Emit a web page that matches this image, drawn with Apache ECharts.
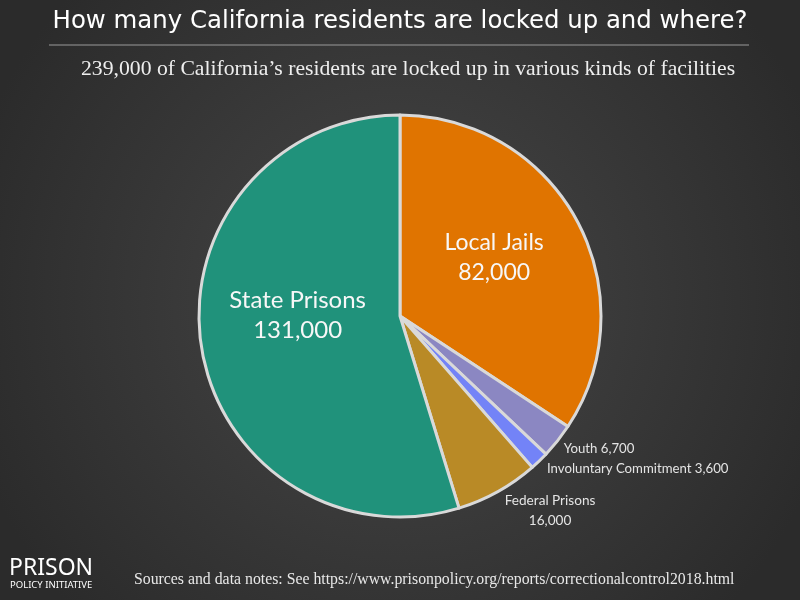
<!DOCTYPE html>
<html>
<head>
<meta charset="utf-8">
<style>
  html, body { margin: 0; padding: 0; background: #333; }
  #chart { width: 800px; height: 600px; }
</style>
<script src="https://cdn.jsdelivr.net/npm/echarts@6/dist/echarts.min.js"></script>
</head>
<body>
<div id="chart"></div>
<script>
// --- data ---
var categories = ['Local Jails', 'Youth', 'Involuntary Commitment', 'Federal Prisons', 'State Prisons'];
var residents = [82000, 6700, 3600, 16000, 131000];

var sliceColors = ['#e07400', '#8b87c2', '#7383f7', '#b98a26', '#20927b'];

(function() {
    var chart = echarts.init(document.getElementById('chart'), null, { renderer: 'canvas' });

    function fmt(v) { return v.toLocaleString('en-US'); }

    // nudges so labels sit where the original puts them
    var nudge = {
        'Local Jails': [3, -9],
        'Youth': [-2, 5],
        'Involuntary Commitment': [0, 5],
        'Federal Prisons': [0, 16],
        'State Prisons': [0, -16]
    };

    var bigFont = { 'Local Jails': 23, 'State Prisons': 24 };
    var pieData = categories.map(function(name, i) {
        var item = { name: name, value: residents[i], itemStyle: { color: sliceColors[i] } };
        if (bigFont[name]) {
            item.label = {
                position: 'inner',
                fontSize: bigFont[name],
                lineHeight: 30,
                color: '#f7f7f7',
                formatter: function(p) { return p.name + '\n' + fmt(p.value); }
            };
        } else {
            item.label = {
                position: 'outside',
                fontSize: 13.2,
                lineHeight: 20,
                color: '#e4e4e4',
                formatter: name === 'Federal Prisons'
                    ? function(p) { return '{a|' + p.name + '}\n{a|' + fmt(p.value) + '}'; }
                    : function(p) { return p.name + ' ' + fmt(p.value); },
                rich: {
                    a: { fontSize: 13.6, lineHeight: 20, color: '#e4e4e4', fontFamily: 'Lato', align: 'center' }
                }
            };
            item.labelLine = { show: false };
        }
        return item;
    });

    var option = {
        animation: false,
        backgroundColor: {
            type: 'radial', x: 0.5, y: 0.5, r: 0.75,
            colorStops: [
                { offset: 0, color: '#474747' },
                { offset: 1, color: '#2b2b2b' }
            ]
        },
        title: [
            {
                text: 'How many California residents are locked up and where?',
                left: 'center', top: 5,
                textStyle: { color: '#ffffff', fontFamily: 'DejaVu Sans', fontWeight: 'normal', fontSize: 24.4 }
            },
            {
                text: '239,000 of California\u2019s residents are locked up in various kinds of facilities',
                left: 76, top: 53,
                textStyle: { color: '#eeeeee', fontFamily: 'Liberation Serif', fontWeight: 'normal', fontSize: 21.7 }
            },
            {
                text: 'Sources and data notes: See https://www.prisonpolicy.org/reports/correctionalcontrol2018.html',
                left: 129, top: 567,
                textStyle: { color: '#e8e8e8', fontFamily: 'Liberation Serif', fontWeight: 'normal', fontSize: 15.8 }
            }
        ],
        graphic: [
            { type: 'line', shape: { x1: 49, y1: 45, x2: 749, y2: 45 }, style: { stroke: '#9a9a9a', lineWidth: 1 } },
            { type: 'text', left: 9, top: 557, style: { text: 'PRISON', fill: '#ffffff', font: '23px "Noto Sans"' } },
            { type: 'text', left: 10, top: 580, style: { text: 'POLICY INITIATIVE', fill: '#ffffff', font: '9.5px "Noto Sans"' } }
        ],
        series: [
            {
                type: 'pie',
                center: [400, 316],
                radius: 201,
                startAngle: 90,
                clockwise: true,
                avoidLabelOverlap: false,
                itemStyle: { borderColor: '#d9d9d9', borderWidth: 3 },
                label: { fontFamily: 'Lato' },
                labelLine: { show: false, length: 4, length2: 0 },
                labelLayout: function(p) {
                    var n = nudge[categories[p.dataIndex]];
                    return { dx: n[0], dy: n[1] };
                },
                emphasis: { disabled: true },
                data: pieData
            }
        ]
    };

    chart.setOption(option);
    window.addEventListener('resize', function() { chart.resize(); });
})();
</script>
</body>
</html>
